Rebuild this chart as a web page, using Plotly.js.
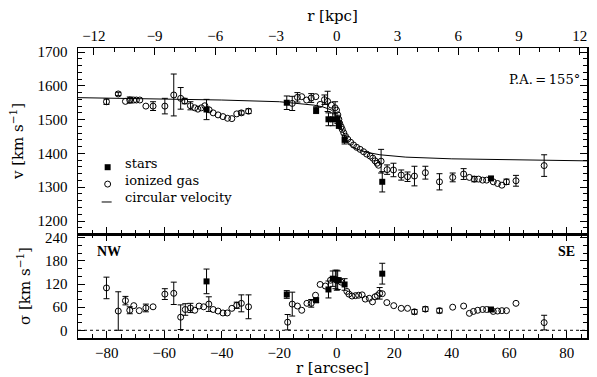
<!DOCTYPE html>
<html><head><meta charset="utf-8">
<script src="https://cdn.plot.ly/plotly-3.0.1.min.js"></script>
<style>html,body{margin:0;padding:0;background:#fff}#c{width:597px;height:377px}</style>
</head><body><div id="c"></div>
<script>
// ---- velocity panel: ionized gas ----
const gasVelR = [-80.1,-76.0,-73.5,-72.0,-70.6,-69.7,-68.5,-66.4,-63.9,-59.8,-56.7,-54.3,-52.9,-50.9,-49.4,-48.3,-47.1,-45.9,-44.4,-43.0,-41.3,-39.6,-38.0,-36.5,-34.8,-33.2,-30.7,-15.5,-13.7,-12.2,-10.5,-8.9,-7.3,-5.8,-4.3,-3.2,-1.9,-0.6,-0.1,0.35,0.7,1.0,1.5,1.9,2.4,3.0,3.8,4.8,5.8,6.9,8.1,9.3,10.4,11.6,12.5,13.3,14.0,14.5,15.4,17.5,19.7,22.4,24.6,27.0,30.8,35.7,40.3,44.1,46.1,47.8,49.3,50.7,52.1,54.4,55.9,57.4,59.0,62.3,72.1];
const gasVel = [1553,1576,1554,1558,1558,1558,1558,1540,1540,1540,1573,1563,1555,1541,1535,1531,1535,1541,1529,1520,1514,1509,1504,1503,1517,1520,1525,1548,1566,1568,1558,1564,1568,1545,1559,1554,1543,1535,1528,1514,1501,1489,1479,1471,1461,1451,1442,1433,1425,1418,1412,1405,1398,1392,1386,1378,1371,1365,1377,1352,1351,1336,1331,1333,1343,1316,1329,1339,1329,1324,1324,1321,1321,1316,1311,1306,1316,1319,1364];
const gasVelErr = [8,5,0,9,0,0,0,0,13,23,62,32,8,12,0,0,0,0,0,0,0,0,0,0,0,6,7,21,14,0,0,13,0,0,14,30,0,18,0,0,0,0,0,0,0,0,0,0,0,0,0,0,0,0,0,0,0,0,35,14,20,15,14,29,19,24,13,16,0,8,0,0,0,0,0,0,8,16,32];
// ---- velocity panel: stars ----
const starVelR = [-45.3,-17.4,-7.2,-2.9,-1.4,0.2,0.7,2.7,15.8,53.6];
const starVel = [1530,1550,1528,1501,1501,1501,1484,1440,1316,1326];
const starVelErr = [30,20,10,19,19,12,10,12,30,5];
// ---- circular velocity curve ----
const circR = [-90,-60,-40,-20,-10,-8,-5,-3,-2,-1,0,1,2,3,4,5,6,8,10,15,20,24,40,60,87];
const circV = [1565,1561,1558,1553,1546,1543,1538,1533,1529,1522,1508,1488,1466,1447,1432,1422,1416,1409,1404,1396,1392,1389,1384,1381,1378];
// ---- dispersion panel: ionized gas ----
const gasSigR = [-80.1,-76.0,-73.5,-72.0,-70.6,-68.7,-66.4,-63.9,-59.8,-56.7,-54.3,-52.7,-50.9,-49.4,-47.9,-46.3,-44.5,-43.0,-41.3,-39.6,-38.1,-36.5,-34.8,-33.2,-30.7,-17.1,-15.5,-13.7,-12.2,-10.4,-8.9,-7.4,-5.8,-4.0,-2.2,-0.5,0.0,1.5,3.5,4.2,5.3,6.5,7.6,8.8,9.9,11.3,12.4,13.3,14.1,14.9,15.8,17.4,19.8,22.4,24.6,27.0,30.8,35.7,40.3,44.1,46.1,47.5,49.0,50.7,52.1,54.4,55.9,57.4,59.0,62.3,72.1];
const gasSig = [110,50,77,52,64,51,58,61,94,96,34,54,58,52,63,61,68,54,50,45,45,57,65,70,61,21,68,63,52,70,70,91,119,115,130,132,130,125,101,94,89,90,91,92,81,83,74,87,90,96,95,72,64,57,57,48,55,51,60,63,44,49,52,54,54,49,50,51,51,70,20];
const gasSigErr = [28,50,11,9,0,0,10,0,14,29,32,15,12,0,0,0,19,0,0,0,0,0,8,22,31,20,31,0,0,0,10,0,0,0,0,24,26,0,0,0,0,0,0,0,0,0,0,0,0,15,0,0,0,0,0,6,6,6,0,0,0,0,0,0,0,0,0,0,0,0,19];
// ---- dispersion panel: stars ----
const starSigR = [-45.3,-17.4,-7.2,-2.9,-1.4,0.3,0.7,2.7,15.8,53.6];
const starSig = [127,93,78,106,134,130,130,119,147,54];
const starSigErr = [32,10,6,22,20,24,0,15,27,4];
// axis ticks
const vTicks = [1200,1300,1400,1500,1600,1700];
const sTicks = [0,60,120,180,240];
const rTicks = [-80,-60,-40,-20,0,20,40,60,80];
const kpcTicks = [-12,-9,-6,-3,0,3,6,9,12];
const arcsecPerKpc = 7.04;

const nanz = a => a.map(e => e === 0 ? NaN : e);
const FONT = 'Liberation Serif, DejaVu Serif, serif';
const FONT2 = 'DejaVu Serif, serif';
const eb = arr => ({type:'data', array: nanz(arr), visible:true, color:'#000', thickness:1, width:3});
const xr = [-90, 87];
const kr = [xr[0]/arcsecPerKpc, xr[1]/arcsecPerKpc];

const traces = [
  {x: kr, y: [NaN, NaN], xaxis:'x2', yaxis:'y', mode:'markers', marker:{size:0, opacity:0}, showlegend:false, hoverinfo:'skip', name:'kpc'},
  {x: circR, y: circV, xaxis:'x3', yaxis:'y', mode:'lines', line:{color:'#000', width:1}, name:'circular velocity', showlegend:false, hoverinfo:'skip'},
  {x: gasVelR, y: gasVel, xaxis:'x3', yaxis:'y', mode:'markers', name:'ionized gas', showlegend:false,
   marker:{symbol:'circle-open', size:6, color:'#000', line:{width:1, color:'#000'}}, error_y: eb(gasVelErr)},
  {x: starVelR, y: starVel, xaxis:'x3', yaxis:'y', mode:'markers', name:'stars', showlegend:false,
   marker:{symbol:'square', size:6, color:'#000'}, error_y: eb(starVelErr)},
  {x: gasSigR, y: gasSig, xaxis:'x', yaxis:'y2', mode:'markers', name:'ionized gas σ', showlegend:false,
   marker:{symbol:'circle-open', size:6, color:'#000', line:{width:1, color:'#000'}}, error_y: eb(gasSigErr)},
  {x: starSigR, y: starSig, xaxis:'x', yaxis:'y2', mode:'markers', name:'stars σ', showlegend:false,
   marker:{symbol:'square', size:6, color:'#000'}, error_y: eb(starSigErr)}
];

const ax = {showline:true, linecolor:'#000', linewidth:1.5, ticks:'inside', ticklen:7, tickwidth:1, tickcolor:'#000',
  showgrid:false, zeroline:false, tickfont:{family:FONT, size:15, color:'#000'},
  minor:{ticks:'inside', ticklen:4, tickwidth:1, tickcolor:'#000', showgrid:false}};
const layout = {
  width:597, height:377, margin:{l:78, r:10, t:48, b:39},
  paper_bgcolor:'#fff', plot_bgcolor:'#fff', showlegend:false,
  font:{family:FONT, color:'#000'},
  xaxis: Object.assign({}, ax, {domain:[0,1], anchor:'y2', range:xr, tickmode:'array', tickvals:rTicks,
    minor:Object.assign({}, ax.minor, {dtick:5, tick0:0}), mirror:'ticks',
    title:{text:'r [arcsec]', font:{family:FONT2, size:15}, standoff:2}}),
  xaxis3: Object.assign({}, ax, {domain:[0,1], anchor:'y', range:xr, tickmode:'array', tickvals:rTicks, showticklabels:false,
    minor:Object.assign({}, ax.minor, {dtick:5, tick0:0})}),
  xaxis2: Object.assign({}, ax, {overlaying:'x3', side:'top', anchor:'y', range:kr,
    tickmode:'array', tickvals:kpcTicks, minor:Object.assign({}, ax.minor, {dtick:1, tick0:0}),
    title:{text:'r [kpc]', font:{family:FONT2, size:15}, standoff:2}}),
  yaxis: Object.assign({}, ax, {domain:[0.3586,1], anchor:'x3', range:[1161.5,1712], tickmode:'array', tickvals:vTicks,
    minor:Object.assign({}, ax.minor, {dtick:20, tick0:0}), mirror:'ticks', ticklabelstandoff:6,
    title:{text:'v [km s<sup>−1</sup>]', font:{family:FONT2, size:15}, standoff:10}}),
  yaxis2: Object.assign({}, ax, {domain:[0,0.3586], anchor:'x', range:[-20,250], tickmode:'array', tickvals:sTicks,
    minor:Object.assign({}, ax.minor, {dtick:20, tick0:0}), mirror:'ticks', ticklabelstandoff:6,
    title:{text:'σ [km s<sup>−1</sup>]', font:{family:FONT2, size:15}, standoff:10}}),
  shapes:[
    {type:'line', xref:'paper', x0:0, x1:1, yref:'y2', y0:0, y1:0, line:{color:'#000', width:1, dash:'dot'}},
    {type:'rect', xref:'paper', yref:'paper', x0:0.0524, x1:0.0641, y0:0.5786, y1:0.5993, fillcolor:'#000', line:{width:0}},
    {type:'circle', xref:'paper', yref:'paper', x0:0.0524, x1:0.0641, y0:0.5204, y1:0.5411, line:{color:'#000', width:1}},
    {type:'line', xref:'paper', yref:'paper', x0:0.0465, x1:0.0661, y0:0.4690, y1:0.4690, line:{color:'#000', width:1}}
  ],
  annotations:[
    {xref:'paper', yref:'paper', x:0.0885, y:0.6030, xanchor:'left', yanchor:'middle', text:'stars', showarrow:false, font:{family:FONT2, size:13}},
    {xref:'paper', yref:'paper', x:0.0885, y:0.5430, xanchor:'left', yanchor:'middle', text:'ionized gas', showarrow:false, font:{family:FONT2, size:13}},
    {xref:'paper', yref:'paper', x:0.0885, y:0.4830, xanchor:'left', yanchor:'middle', text:'circular velocity', showarrow:false, font:{family:FONT2, size:13}},
    {xref:'paper', yref:'paper', x:0.991, y:0.8897, xanchor:'right', yanchor:'middle', text:'P.A.\u2009=\u2009155°', showarrow:false, font:{family:FONT2, size:13}},
    {xref:'paper', yref:'paper', x:0.0334, y:0.2966, xanchor:'left', yanchor:'middle', text:'<b>NW</b>', showarrow:false, font:{family:FONT, size:14}},
    {xref:'paper', yref:'paper', x:0.981, y:0.2966, xanchor:'right', yanchor:'middle', text:'<b>SE</b>', showarrow:false, font:{family:FONT, size:14}}
  ]
};
Plotly.newPlot('c', traces, layout, {displayModeBar:false, staticPlot:true});
</script></body></html>
